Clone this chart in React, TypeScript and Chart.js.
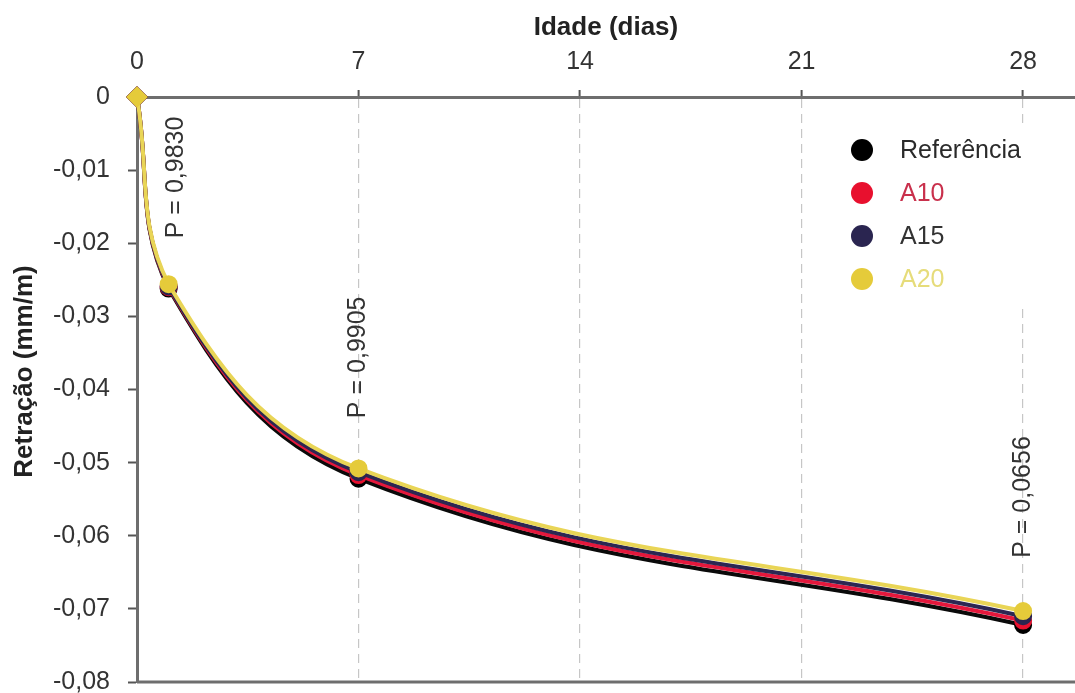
import React, { useEffect, useRef } from "react";
import { Chart, registerables } from "chart.js";

Chart.register(...registerables);

// ---- data ----
const days = [0, 1, 7, 28];
const seriesNames = ["Referência", "A10", "A15", "A20"];
const referencia = [0, -0.0262, -0.0522, -0.0722];
const a10 = [0, -0.026, -0.0517, -0.0716];
const a15 = [0, -0.0259, -0.0513, -0.071];
const a20 = [0, -0.0256, -0.0508, -0.0703];
const xTicks = [0, 7, 14, 21, 28];
const yTicks = [0, -0.01, -0.02, -0.03, -0.04, -0.05, -0.06, -0.07, -0.08];
const pLabels = ["P = 0,9830", "P = 0,9905", "P = 0,0656"];
const pLabelDays = [1.23, 7, 28];
const pLabelCenters = [-0.011, -0.0356, -0.0547];

const lineColors = ["#0a0a0a", "#e4183c", "#2c2752", "#e9d556"];
const pointColors = ["#000000", "#e8102e", "#2a2550", "#e5cb3a"];
const legendTextColors = ["#2a2a2a", "#c9304c", "#333333", "#e6dc7a"];

const FONT = "'Liberation Sans', Arial, Helvetica, sans-serif";

const overlayPlugin = {
  id: "overlay",
  afterDatasetsDraw(chart: any) {
    const { ctx, chartArea, scales } = chart;
    const xs = scales.x;
    const ys = scales.y;
    ctx.save();
    // bottom frame line
    ctx.strokeStyle = "#6e6e6e";
    ctx.lineWidth = 3;
    ctx.beginPath();
    ctx.moveTo(chartArea.left, ys.getPixelForValue(-0.08));
    ctx.lineTo(chartArea.right, ys.getPixelForValue(-0.08));
    ctx.stroke();

    // P annotations
    ctx.fillStyle = "#333333";
    ctx.font = `25px ${FONT}`;
    ctx.textAlign = "center";
    ctx.textBaseline = "middle";
    pLabels.forEach((t, i) => {
      const px = xs.getPixelForValue(pLabelDays[i]);
      const py = ys.getPixelForValue(pLabelCenters[i]);
      ctx.save();
      ctx.translate(px, py);
      ctx.rotate(-Math.PI / 2);
      ctx.fillText(t, 0, 0);
      ctx.restore();
    });

    // legend
    const lx = chartArea.right - 213;
    const ly = chartArea.top + 53;
    const gap = 43;
    ctx.fillStyle = "#ffffff";
    ctx.fillRect(lx - 20, ly - 25, 200, gap * 3 + 50);
    ctx.font = `25px ${FONT}`;
    ctx.textAlign = "left";
    ctx.textBaseline = "middle";
    chart.data.datasets.forEach((ds: any, i: number) => {
      const cy = ly + gap * i;
      ctx.fillStyle = pointColors[i];
      ctx.beginPath();
      ctx.arc(lx, cy, 11, 0, Math.PI * 2);
      ctx.fill();
      ctx.fillStyle = legendTextColors[i];
      ctx.fillText(ds.label, lx + 38, cy + 1);
    });

    // y axis title
    ctx.fillStyle = "#222222";
    ctx.font = `bold 26px ${FONT}`;
    ctx.textAlign = "center";
    ctx.textBaseline = "middle";
    ctx.save();
    ctx.translate(25, (chartArea.top + chartArea.bottom) / 2 - 18);
    ctx.rotate(-Math.PI / 2);
    ctx.fillText("Retração (mm/m)", 0, 0);
    ctx.restore();
    ctx.restore();
  },
};

export default function App() {
  const ref = useRef<HTMLCanvasElement | null>(null);
  useEffect(() => {
    document.body.style.margin = "0";
    const all = [referencia, a10, a15, a20];
    const chart = new Chart(ref.current as HTMLCanvasElement, {
      type: "line",
      data: {
        datasets: all.map((vals, i) => ({
          label: seriesNames[i],
          data: days.map((d, j) => ({ x: d, y: vals[j] })),
          borderColor: lineColors[i],
          backgroundColor: pointColors[i],
          pointBackgroundColor: pointColors[i],
          pointBorderColor: pointColors[i],
          pointStyle: days.map((d) => (d === 0 ? "rectRot" : "circle")),
          pointRadius: days.map((d) => (d === 0 ? 8 : 7)),
          borderWidth: 4,
          tension: 0.4,
          fill: false,
          clip: false,
          order: 3 - i,
        })),
      },
      options: {
        animation: false,
        responsive: false,
        layout: { autoPadding: false, padding: { left: 0, right: 0, top: 0, bottom: 11 } },
        plugins: { legend: { display: false }, tooltip: { enabled: false } },
        scales: {
          x: {
            type: "linear",
            position: "top",
            min: 0,
            max: 29.64,
            afterBuildTicks: (s: any) => {
              s.ticks = xTicks.map((v) => ({ value: v }));
            },
            afterFit: (s: any) => {
              s.height = 97;
              s.paddingLeft = 0;
              s.paddingRight = 0;
            },
            ticks: {
              color: "#333333",
              font: { family: FONT, size: 25 },
              padding: 13,
            },
            grid: {
              color: (c: any) => (c.tick && c.tick.value === 0 ? "rgba(0,0,0,0)" : "#c6c6c6"),
              lineWidth: 1.2,
              drawOnChartArea: true,
              drawTicks: true,
              tickLength: 7,
              tickColor: "#555555",
              tickWidth: 2,
            },
            border: { display: true, color: "#6e6e6e", width: 3, dash: [9, 6] },
            title: {
              display: true,
              text: "Idade (dias)",
              color: "#222222",
              font: { family: FONT, size: 26, weight: "bold" },
              padding: { top: 12, bottom: 0 },
            },
          },
          y: {
            type: "linear",
            min: -0.08,
            max: 0,
            afterBuildTicks: (s: any) => {
              s.ticks = yTicks.map((v) => ({ value: v }));
            },
            afterFit: (s: any) => {
              s.width = 137;
              s.paddingTop = 0;
              s.paddingBottom = 0;
            },
            ticks: {
              color: "#333333",
              font: { family: FONT, size: 25 },
              padding: 18,
              callback: (v: any) => (Number(v) === 0 ? "0" : Number(v).toFixed(2).replace(".", ",")),
            },
            grid: {
              drawOnChartArea: false,
              drawTicks: true,
              tickLength: 9,
              tickColor: "#555555",
              tickWidth: 2,
            },
            border: { display: true, color: "#6e6e6e", width: 3 },
            title: { display: false },
          },
        },
      } as any,
      plugins: [overlayPlugin],
    });
    return () => chart.destroy();
  }, []);
  return (
    <div style={{ position: "absolute", left: 0, top: 0, width: 1075, height: 693 }}>
      <canvas ref={ref} width={1075} height={693} style={{ display: "block" }} />
    </div>
  );
}
